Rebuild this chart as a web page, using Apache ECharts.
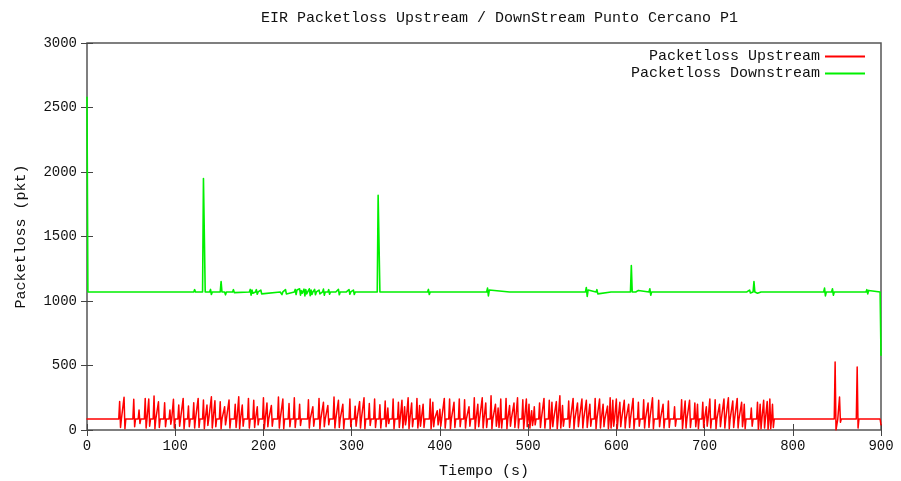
<!DOCTYPE html>
<html><head><meta charset="utf-8">
<script src="https://cdn.jsdelivr.net/npm/echarts@6/dist/echarts.min.js"></script>
<style>html,body{margin:0;padding:0;background:#fff}#c{width:901px;height:481px}</style>
</head><body><div id="c"></div>
<script>
const titleText = 'EIR Packetloss Upstream / DownStream Punto Cercano P1';
const seriesNames = ['Packetloss Upstream', 'Packetloss Downstream'];
const xTicks = [0, 100, 200, 300, 400, 500, 600, 700, 800, 900];
const yTicks = [0, 500, 1000, 1500, 2000, 2500, 3000];

// [tiempo (s), packetloss (pkt)]
const upstream = [
[0,85],[36,85],[37,220],[38,20],[39,85],[41,85],[42,253],[43,10],[44,85],[52,85],[53,238],[54,25],[55,85],
[58,85],[59,155],[60,50],[61,85],[65,85],[66,245],[67,15],[68,85],[69,85],[70,240],[71,30],[72,85],
[75,85],[76,264],[77,10],[78,85],[80,85],[81,219],[82,20],[83,85],[87,85],[88,211],[89,25],[90,85],
[93,85],[94,155],[95,45],[96,85],[97,85],[98,238],[99,15],[100,85],[103,85],[104,193],[105,30],[106,85],
[108,85],[109,245],[110,10],[111,85],[114,85],[115,186],[116,25],[117,85],[120,85],[121,211],[122,15],[123,85],
[125,85],[126,245],[127,20],[128,85],[131,85],[132,233],[133,10],[134,85],[135,85],[136,193],[137,35],[138,85],
[140,85],[141,257],[142,15],[143,85],[144,85],[145,227],[146,25],[147,85],[150,85],[151,219],[152,10],[153,85],
[155,85],[156,181],[157,40],[158,85],[160,85],[161,233],[162,15],[163,85],[167,85],[168,200],[169,20],[170,85],
[171,85],[172,257],[173,10],[174,85],[175,85],[176,193],[177,30],[178,85],[182,85],[183,245],[184,15],[185,85],
[188,85],[189,230],[190,20],[191,85],[192,85],[193,180],[194,40],[195,85],[199,85],[200,250],[201,10],[202,85],
[203,85],[204,210],[205,25],[206,85],[208,85],[209,190],[210,30],[211,85],[216,85],[217,255],[218,15],[219,85],
[221,85],[222,240],[223,10],[224,85],[228,85],[229,205],[230,25],[231,85],[234,85],[235,250],[236,20],[237,85],
[240,85],[241,200],[242,35],[243,85],[250,85],[251,235],[252,15],[253,85],[255,85],[256,180],[257,30],[258,85],
[262,85],[263,245],[264,10],[265,85],[267,85],[268,215],[269,25],[270,85],[272,85],[273,190],[274,40],[275,85],
[279,85],[280,255],[281,15],[282,85],[284,85],[285,230],[286,20],[287,85],[289,85],[290,200],[291,10],[292,85],
[297,85],[298,240],[299,25],[300,85],[303,85],[304,185],[305,30],[306,85],[308,85],[309,220],[310,15],[311,85],
[313,85],[314,250],[315,10],[316,85],[319,85],[320,205],[321,35],[322,85],[325,85],[326,240],[327,20],[328,85],
[331,85],[332,195],[333,15],[334,85],[337,85],[338,225],[339,25],[340,85],[341,170],[342,50],[343,85],
[346,85],[347,240],[348,10],[349,85],[352,85],[353,215],[354,20],[355,85],[356,85],[357,230],[358,15],[359,85],
[360,180],[361,40],[362,85],[363,85],[364,250],[365,10],[366,85],[367,85],[368,210],[369,25],[370,85],
[373,85],[374,245],[375,15],[376,85],[377,190],[378,30],[379,85],[380,85],[381,200],[382,20],[383,85],
[388,85],[389,240],[390,10],[391,85],[392,215],[393,25],[394,85],[396,85],[397,150],[398,40],[399,85],
[400,160],[401,30],[402,85],[404,85],[405,245],[406,15],[407,85],[410,85],[411,240],[412,10],[413,85],
[415,85],[416,215],[417,20],[418,85],[421,85],[422,240],[423,25],[424,85],[427,85],[428,235],[429,15],[430,85],
[432,85],[433,180],[434,30],[435,85],[438,85],[439,250],[440,10],[441,85],[442,85],[443,200],[444,25],[445,85],
[447,85],[448,250],[449,15],[450,85],[451,85],[452,210],[453,20],[454,85],[457,85],[458,265],[459,10],[460,85],
[462,85],[463,200],[464,30],[465,85],[466,170],[467,20],[468,85],[469,240],[470,15],[471,85],
[474,85],[475,245],[476,10],[477,85],[478,85],[479,190],[480,30],[481,85],[483,85],[484,210],[485,20],[486,85],
[487,85],[488,250],[489,15],[490,85],[493,85],[494,235],[495,10],[496,85],[497,85],[498,240],[499,25],[500,85],
[501,200],[502,15],[503,85],[504,150],[505,35],[506,85],[507,180],[508,40],[509,85],
[512,85],[513,210],[514,20],[515,85],[517,85],[518,245],[519,15],[520,85],[523,85],[524,230],[525,10],[526,85],
[527,215],[528,25],[529,85],[531,85],[532,220],[533,10],[534,85],[535,85],[536,265],[537,15],[538,85],
[539,190],[540,30],[541,85],[545,85],[546,225],[547,20],[548,85],[550,85],[551,245],[552,10],[553,85],
[555,85],[556,210],[557,25],[558,85],[560,85],[561,240],[562,15],[563,85],[565,85],[566,230],[567,20],[568,85],
[569,85],[570,200],[571,30],[572,85],[575,85],[576,245],[577,10],[578,85],[580,85],[581,240],[582,15],[583,85],
[584,85],[585,200],[586,25],[587,85],[589,85],[590,185],[591,10],[592,85],[593,250],[594,15],[595,85],
[596,230],[597,30],[598,85],[599,85],[600,240],[601,10],[602,85],[603,85],[604,215],[605,25],[606,85],
[608,85],[609,230],[610,15],[611,85],[613,85],[614,200],[615,20],[616,85],[618,85],[619,245],[620,10],[621,85],
[624,85],[625,215],[626,30],[627,85],[630,85],[631,235],[632,15],[633,85],[635,85],[636,210],[637,20],[638,85],
[640,85],[641,250],[642,10],[643,85],[647,85],[648,230],[649,25],[650,85],[652,85],[653,200],[654,15],[655,85],
[658,85],[659,225],[660,20],[661,85],[665,85],[666,180],[667,30],[668,85],[673,85],[674,235],[675,10],[676,85],
[677,85],[678,225],[679,15],[680,85],[682,85],[683,230],[684,20],[685,85],[688,85],[689,210],[690,25],[691,85],
[692,200],[693,10],[694,85],[697,85],[698,215],[699,20],[700,85],[701,85],[702,180],[703,30],[704,85],
[705,85],[706,240],[707,15],[708,85],[711,85],[712,235],[713,10],[714,85],[716,85],[717,200],[718,25],[719,85],
[721,85],[722,240],[723,15],[724,85],[726,85],[727,250],[728,10],[729,85],[731,85],[732,225],[733,20],[734,85],
[736,85],[737,245],[738,15],[739,85],[741,85],[742,215],[743,25],[744,85],[745,200],[746,10],[747,85],
[752,85],[753,170],[754,30],[755,85],[759,85],[760,215],[761,5],[762,85],[763,200],[764,10],[765,85],
[766,85],[767,230],[768,15],[769,85],[770,85],[771,220],[772,5],[773,85],[774,240],[775,10],[776,85],
[777,200],[778,20],[779,85],
[847,85],[848,527],[849,0],[851,85],[852,85],[853,256],[854,60],[855,85],
[872,85],[873,488],[874,15],[875,85],[899,85],[900,40]
];

const downstream = [
[0,2580],[1,1070],[20,1070],[21,1080],[22,1070],[34,1070],[35,1082],[36,1062],[37,1070],[65,1070],[66,1080],[67,1070],
[89,1070],[90,1078],[91,1070],[109,1070],[110,1080],[111,1070],[121,1070],[122,1088],[123,1070],
[131,1070],[132,1950],[133,1950],[134,1070],[139,1070],[140,1090],[141,1050],[142,1070],
[145,1070],[146,1082],[147,1060],[148,1070],[151,1070],[152,1150],[153,1070],[156,1070],[157,1048],[158,1070],
[165,1070],[166,1088],[167,1065],[168,1070],[184,1070],[185,1090],[186,1045],[187,1085],[188,1060],[189,1070],
[191,1070],[192,1088],[193,1052],[194,1070],[196,1070],[197,1085],[198,1055],[199,1070],
[219,1070],[220,1085],[221,1050],[222,1070],[224,1070],[225,1088],[226,1055],[227,1070],
[235,1070],[236,1090],[237,1050],[238,1085],[239,1070],[240,1070],[241,1095],[242,1045],[243,1080],[244,1060],
[245,1070],[246,1092],[247,1040],[248,1088],[249,1055],[250,1070],[251,1070],[252,1095],[253,1042],[254,1085],
[255,1050],[256,1070],[257,1070],[258,1090],[259,1048],[260,1070],[262,1070],[263,1085],[264,1055],[265,1070],
[267,1070],[268,1092],[269,1045],[270,1070],[273,1070],[274,1088],[275,1052],[276,1070],
[279,1070],[280,1085],[281,1055],[282,1070],[284,1070],[285,1090],[286,1048],[287,1070],
[291,1070],[292,1085],[293,1055],[294,1070],[296,1070],[297,1088],[298,1052],[299,1070],
[301,1070],[302,1085],[303,1050],[304,1070],[329,1070],[330,1820],[331,1820],[332,1070],
[339,1070],[340,1080],[341,1065],[342,1070],[359,1070],[360,1078],[361,1070],
[386,1070],[387,1090],[388,1050],[389,1070],[399,1070],[400,1082],[401,1062],[402,1070],
[416,1070],[417,1080],[418,1070],[424,1070],[425,1080],[426,1065],[427,1070],[433,1070],[434,1082],[435,1070],
[439,1070],[440,1080],[441,1070],[453,1070],[454,1100],[455,1040],[456,1085],[457,1070],
[479,1070],[480,1078],[481,1070],[509,1070],[510,1078],[511,1070],[527,1070],[528,1085],[529,1060],[530,1070],
[544,1070],[545,1080],[546,1070],[565,1070],[566,1105],[567,1035],[568,1085],[569,1070],
[577,1070],[578,1088],[579,1055],[580,1070],[594,1070],[595,1078],[596,1070],[607,1070],[608,1080],[609,1070],
[616,1070],[617,1275],[618,1070],[622,1070],[623,1085],[624,1060],[625,1082],[626,1070],
[637,1070],[638,1095],[639,1045],[640,1070],[659,1070],[660,1078],[661,1070],
[680,1070],[681,1085],[682,1058],[683,1070],[699,1070],[700,1078],[701,1070],
[711,1070],[712,1082],[713,1060],[714,1070],[718,1070],[719,1080],[720,1070],
[745,1070],[746,1082],[747,1060],[748,1070],[750,1070],[751,1085],[752,1062],[753,1070],
[755,1070],[756,1150],[757,1070],[758,1070],[759,1085],[760,1060],[761,1070],
[764,1070],[765,1082],[766,1058],[767,1070],[778,1070],[779,1078],[780,1070],
[796,1070],[797,1080],[798,1062],[799,1070],[813,1070],[814,1078],[815,1070],
[835,1070],[836,1100],[837,1040],[838,1070],[844,1070],[845,1095],[846,1045],[847,1070],
[859,1070],[860,1078],[861,1070],[883,1070],[884,1088],[885,1055],[886,1082],[887,1070],
[899,1070],[900,580]
];

const FONT = '"Liberation Mono", "DejaVu Sans Mono", monospace';
const chart = echarts.init(document.getElementById('c'), null, {renderer: 'canvas'});
const xMin = xTicks[0], xMax = xTicks[xTicks.length - 1];
const yMin = yTicks[0], yMax = yTicks[yTicks.length - 1];
const plain = v => String(v);
const tickCommon = {show: true, inside: true, length: 6, lineStyle: {color: '#444', width: 1}};
chart.setOption({
  animation: false,
  backgroundColor: '#ffffff',
  title: {text: titleText, left: 256, top: 6,
    textStyle: {fontFamily: FONT, fontSize: 15, fontWeight: 'normal', color: '#111'}},
  legend: [
    {data: [seriesNames[0]], right: 36, top: 49, padding: 0, align: 'right', orient: 'vertical',
     icon: 'rect', itemWidth: 40, itemHeight: 2,
     textStyle: {fontFamily: FONT, fontSize: 15, color: '#111'}},
    {data: [seriesNames[1]], right: 36, top: 66, padding: 0, align: 'right', orient: 'vertical',
     icon: 'rect', itemWidth: 40, itemHeight: 2,
     textStyle: {fontFamily: FONT, fontSize: 15, color: '#111'}}
  ],
  grid: {left: 87, right: 20, top: 43, bottom: 51, containLabel: false, outerBoundsMode: 'none',
    show: true, borderColor: '#555', borderWidth: 1.5, backgroundColor: 'transparent'},
  xAxis: [
    {type: 'value', min: xMin, max: xMax, interval: 100, position: 'bottom',
     axisLine: {show: false}, axisTick: tickCommon, splitLine: {show: false},
     axisLabel: {fontFamily: FONT, fontSize: 14, color: '#111', margin: 9, formatter: plain},
     name: 'Tiempo (s)', nameLocation: 'middle', nameGap: 34,
     nameTextStyle: {fontFamily: FONT, fontSize: 15, color: '#111'}},
    {type: 'value', min: xMin, max: xMax, interval: 100, position: 'top',
     axisLine: {show: false}, axisTick: tickCommon, splitLine: {show: false}, axisLabel: {show: false}}
  ],
  yAxis: [
    {type: 'value', min: yMin, max: yMax, interval: 500, position: 'left',
     axisLine: {show: false}, axisTick: tickCommon, splitLine: {show: false},
     axisLabel: {fontFamily: FONT, fontSize: 14, color: '#111', margin: 10, formatter: plain},
     name: 'Packetloss (pkt)', nameLocation: 'middle', nameGap: 58, nameRotate: 90,
     nameTextStyle: {fontFamily: FONT, fontSize: 15, color: '#111'}},
    {type: 'value', min: yMin, max: yMax, interval: 500, position: 'right',
     axisLine: {show: false}, axisTick: tickCommon, splitLine: {show: false}, axisLabel: {show: false}}
  ],
  series: [
    {name: seriesNames[0], type: 'line', data: upstream, showSymbol: false, symbol: 'none', sampling: false,
     smooth: false, smoothMonotone: null, step: false,
     color: '#ff0000', lineStyle: {color: '#ff0000', width: 1.5, join: 'round', cap: 'round'}, xAxisIndex: 0, yAxisIndex: 0},
    {name: seriesNames[1], type: 'line', data: downstream, showSymbol: false, symbol: 'none', sampling: false,
     smooth: false, smoothMonotone: null, step: false,
     color: '#00f000', lineStyle: {color: '#00f000', width: 1.6, join: 'round', cap: 'round'}, xAxisIndex: 0, yAxisIndex: 0}
  ]
});
</script></body></html>
